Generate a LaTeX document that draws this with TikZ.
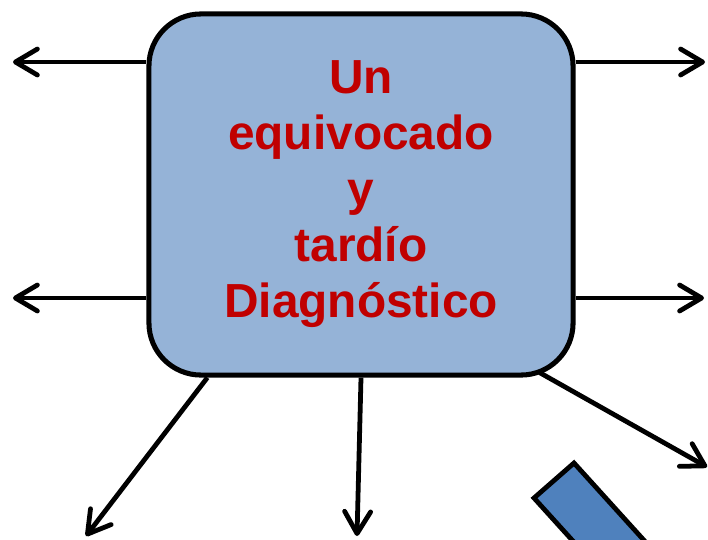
\documentclass[tikz,border=0pt]{standalone}
\usepackage{fontspec}
\setmainfont{Liberation Sans}
\usetikzlibrary{arrows.meta}

\definecolor{boxblue}{HTML}{95B3D7}
\definecolor{barblue}{HTML}{4F81BD}
\definecolor{textred}{HTML}{C00000}

\tikzset{
	diagbox/.style={draw=black, fill=boxblue, line width=3.6pt, rounded corners=1.3cm,
		minimum width=10.6cm, minimum height=9.025cm, inner sep=0pt, align=center,
		text=textred, font=\fontsize{34}{39.8}\selectfont\bfseries},
	arr/.style={line width=3.4pt, -{Straight Barb[length=5.5mm,width=6.5mm,round]}},
	bar/.style={draw=black, line width=3.4pt, fill=barblue}
}

\begin{document}
\begin{tikzpicture}[x=0.025cm,y=-0.025cm]
	
	\clip (0,0) rectangle (708,539);
	
	\draw[bar] (534,498) -- (574,463) -- (708,611) -- (668,646) -- cycle;
	
	\coordinate (nw) at (13,62);
	\coordinate (sw) at (13,298);
	\coordinate (ne) at (705,62);
	\coordinate (se) at (704,298);
	\coordinate (dl) at (86,536);
	\coordinate (dm) at (357,536);
	\coordinate (dr) at (707,467);
	
	\node[diagbox] (diag) at (361,194.5) {Un\\equivocado\\y\\tardío\\Diagnóstico};
	
	\draw[arr] (diag.west |- nw) -- (nw);
	\draw[arr] (diag.west |- sw) -- (sw);
	\draw[arr] (diag.east |- ne) -- (ne);
	\draw[arr] (diag.east |- se) -- (se);
	\draw[arr] (diag.230) -- (dl);
	\draw[arr] (diag.south) -- (dm);
	\draw[arr] ([shift={(-36,-5)}]diag.south east) -- (dr);
	
\end{tikzpicture}
\end{document}
